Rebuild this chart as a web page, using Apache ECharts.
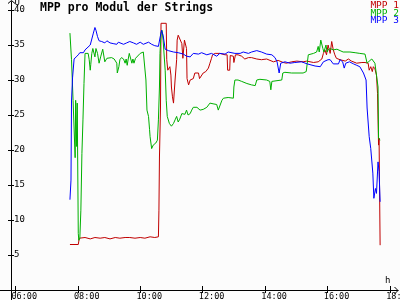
<!DOCTYPE html>
<html><head><meta charset="utf-8">
<script src="https://cdn.jsdelivr.net/npm/echarts@6/dist/echarts.min.js"></script>
<style>html,body{margin:0;padding:0;background:#fcfcfc}#c{width:400px;height:300px}</style>
</head><body><div id="c"></div>
<script>
const chartTitle = 'MPP pro Modul der Strings';
const seriesNames = ['MPP 1', 'MPP 2', 'MPP 3'];
const seriesColors = ['#c00000', '#00b000', '#0000ff'];
const xTickLabels = ['06:00', '08:00', '10:00', '12:00', '14:00', '16:00', '18:00'];
const yTickValues = [5, 10, 15, 20, 25, 30, 35, 40];
const yAxisName = 'U';
const xAxisName = 'h';

const mpp1 = [["07:45",6.5],["08:01",6.5],["08:03",7.4],["08:14",7.5],["08:24",7.3],["08:33",7.5],["08:43",7.4],["08:52",7.5],["09:02",7.3],["09:12",7.5],["09:21",7.4],["09:31",7.5],["09:40",7.5],["09:50",7.4],["10:00",7.5],["10:09",7.4],["10:19",7.6],["10:28",7.5],["10:35",7.6],["10:36",11.4],["10:37",19.0],["10:39",26.0],["10:40",38.1],["10:50",38.1],["10:51",32.9],["10:53",31.4],["10:56",31.6],["10:57",31.9],["10:59",30.7],["11:00",29.0],["11:02",27.6],["11:04",26.7],["11:07",30.0],["11:10",32.9],["11:11",35.7],["11:13",36.4],["11:16",36.2],["11:20",35.2],["11:22",33.1],["11:25",35.7],["11:28",35.7],["11:29",34.5],["11:30",30.2],["11:33",29.3],["11:36",30.0],["11:42",30.2],["11:45",31.0],["11:52",31.0],["11:54",30.2],["11:57",30.3],["12:01",31.0],["12:06",31.2],["12:11",31.7],["12:14",32.4],["12:17",33.1],["12:19",33.6],["12:24",33.8],["12:33",33.8],["12:43",33.6],["12:47",33.6],["12:48",31.4],["12:52",31.4],["12:53",33.5],["12:59",33.4],["13:00",32.5],["13:02",32.5],["13:03",33.6],["13:08",33.6],["13:15",33.4],["13:21",33.0],["13:28",33.2],["13:34",33.2],["13:44",33.0],["13:53",32.9],["14:03",33.0],["14:16",32.6],["14:25",32.8],["14:35",32.5],["14:41",32.4],["14:51",32.6],["15:01",32.7],["15:13",32.6],["15:20",32.7],["15:33",32.5],["15:42",32.6],["15:49",33.0],["15:52",33.8],["15:55",34.3],["15:58",33.6],["16:01",35.0],["16:05",33.8],["16:08",35.5],["16:11",34.3],["16:14",33.6],["16:17",33.1],["16:24",32.9],["16:34",32.7],["16:40",33.0],["16:46",32.7],["16:56",32.4],["17:06",32.5],["17:12",32.5],["17:18",32.4],["17:20",31.4],["17:23",31.9],["17:26",31.2],["17:28",31.9],["17:31",31.6],["17:34",30.7],["17:36",28.1],["17:38",20.7],["17:39",21.7],["17:41",6.4]];

const mpp2 = [["07:45",36.7],["07:48",32.9],["07:51",27.1],["07:55",18.9],["07:56",27.1],["07:58",20.5],["07:59",26.7],["08:01",8.1],["08:02",7.1],["08:04",7.4],["08:06",11.4],["08:08",19.5],["08:10",24.3],["08:12",29.5],["08:14",33.8],["08:17",34.0],["08:20",33.8],["08:22",32.9],["08:24",31.4],["08:25",32.2],["08:27",33.8],["08:29",34.5],["08:31",34.5],["08:33",33.3],["08:35",34.5],["08:38",33.8],["08:41",32.4],["08:44",33.3],["08:48",34.4],["08:50",34.4],["08:52",32.6],["08:56",33.1],["08:59",33.2],["09:05",33.2],["09:10",33.0],["09:12",33.1],["09:15",32.4],["09:16",31.0],["09:19",31.9],["09:21",32.9],["09:24",33.2],["09:28",33.0],["09:31",32.4],["09:33",33.0],["09:35",32.1],["09:37",33.0],["09:39",33.8],["09:42",34.0],["09:44",32.4],["09:46",33.0],["09:48",32.4],["09:51",33.1],["09:53",33.3],["10:00",33.8],["10:06",34.0],["10:09",34.2],["10:11",30.0],["10:13",25.7],["10:16",24.8],["10:18",22.9],["10:19",21.9],["10:22",20.2],["10:25",20.7],["10:30",21.0],["10:33",21.4],["10:35",24.3],["10:37",29.0],["10:38",33.8],["10:40",36.7],["10:42",37.1],["10:44",35.7],["10:48",31.4],["10:50",27.1],["10:52",24.8],["10:56",23.8],["11:00",23.4],["11:04",23.8],["11:07",24.3],["11:10",24.8],["11:13",24.0],["11:16",24.4],["11:20",25.2],["11:26",25.1],["11:29",25.7],["11:32",25.0],["11:36",25.2],["11:39",25.7],["11:42",26.1],["11:45",26.0],["11:49",26.1],["11:55",25.7],["12:01",25.8],["12:08",26.1],["12:14",26.7],["12:20",26.6],["12:27",26.5],["12:30",25.7],["12:33",25.7],["12:37",27.1],["12:40",27.4],["12:49",27.5],["12:59",27.4],["13:00",29.0],["13:02",30.0],["13:08",30.0],["13:15",29.8],["13:25",29.5],["13:34",29.3],["13:41",29.2],["13:44",30.0],["13:50",30.1],["14:03",30.0],["14:09",29.8],["14:11",28.6],["14:13",29.8],["14:16",30.0],["14:32",30.0],["14:34",31.0],["14:38",31.1],["14:51",31.0],["15:07",31.0],["15:13",31.0],["15:19",31.2],["15:21",32.4],["15:23",33.6],["15:33",33.8],["15:39",34.0],["15:42",34.8],["15:44",34.0],["15:47",35.7],["15:49",35.8],["15:51",34.5],["15:53",34.0],["15:57",35.0],["15:59",34.0],["16:01",34.3],["16:05",34.5],["16:11",34.3],["16:18",34.4],["16:24",34.2],["16:30",34.0],["16:43",34.0],["16:53",33.9],["17:02",33.8],["17:12",33.7],["17:14",33.6],["17:16",32.4],["17:20",32.7],["17:25",33.0],["17:28",32.9],["17:31",32.4],["17:34",30.7],["17:37",29.0],["17:38",21.7],["17:41",21.4]];

const mpp3 = [["07:45",12.9],["07:47",15.7],["07:48",27.0],["07:50",30.3],["07:53",33.0],["07:57",33.3],["08:01",33.6],["08:04",33.9],["08:11",33.9],["08:14",34.3],["08:17",34.4],["08:24",35.0],["08:27",35.2],["08:30",36.7],["08:33",37.5],["08:35",37.1],["08:38",36.2],["08:41",35.6],["08:46",35.5],["08:52",35.3],["08:56",35.6],["08:59",35.6],["09:02",35.3],["09:08",35.2],["09:15",35.1],["09:18",35.4],["09:21",35.2],["09:28",35.1],["09:34",35.3],["09:40",35.5],["09:47",35.3],["09:53",35.1],["10:00",35.4],["10:06",35.1],["10:16",35.4],["10:22",35.1],["10:28",34.9],["10:35",34.8],["10:38",36.0],["10:41",37.1],["10:44",36.4],["10:48",34.4],["10:54",34.2],["11:04",34.0],["11:13",33.9],["11:23",33.7],["11:29",33.4],["11:36",33.3],["11:42",33.8],["11:52",33.7],["11:58",33.9],["12:08",33.6],["12:17",33.8],["12:27",33.4],["12:33",33.8],["12:43",33.7],["12:49",34.0],["13:02",33.8],["13:12",33.8],["13:18",34.0],["13:28",33.8],["13:34",34.0],["13:44",34.2],["13:53",34.0],["14:03",33.7],["14:13",33.6],["14:19",33.2],["14:23",32.6],["14:27",31.0],["14:30",32.4],["14:38",32.6],["14:48",32.4],["14:57",32.5],["15:10",32.6],["15:21",32.3],["15:36",32.0],["15:46",31.9],["15:52",32.6],["16:01",32.9],["16:05",32.9],["16:11",32.3],["16:21",32.3],["16:24",32.9],["16:29",32.6],["16:32",31.7],["16:35",32.4],["16:42",32.6],["16:50",32.3],["16:56",32.1],["17:02",31.9],["17:09",31.0],["17:14",30.0],["17:16",26.0],["17:20",21.9],["17:23",20.2],["17:27",16.7],["17:29",13.1],["17:32",14.5],["17:34",13.8],["17:37",18.3],["17:39",16.9],["17:41",12.6]];

const toH = s => { const [h, m] = s.split(':').map(Number); return h + m / 60; };
const FONT = 'DejaVu Sans Mono';
const xTickValues = xTickLabels.map(toH);
const X_MIN = 5.8623, X_MAX = 18.256, Y_MIN = 0, Y_MAX = 41.2;
const fmtX = v => { const h = Math.floor(v + 1e-6); const m = Math.round((v - h) * 60); return String(h).padStart(2, '0') + ':' + String(m).padStart(2, '0'); };

const chart = echarts.init(document.getElementById('c'), null, { renderer: 'canvas' });
const allData = [mpp1, mpp2, mpp3];
chart.setOption({
  backgroundColor: '#fcfcfc',
  animation: false,
  title: { text: chartTitle, left: 40, top: 2, padding: 0,
    textStyle: { fontFamily: FONT, fontSize: 11.5, fontWeight: 'bold', color: '#000' } },
  legend: { show: true, orient: 'vertical', right: 1, top: 0.8, padding: 0, itemGap: -2.6,
    itemWidth: 0, itemHeight: 0, icon: 'rect', selectedMode: false,
    textStyle: { fontFamily: FONT, fontSize: 9.5, padding: 0 },
    data: seriesNames.map((n, i) => ({ name: n, textStyle: { color: seriesColors[i] } })) },
  grid: { left: 11, right: 2, top: 1.6, bottom: 10, containLabel: false, outerBoundsMode: 'none' },
  xAxis: [
    { type: 'value', min: X_MIN, max: X_MAX, position: 'bottom',
      axisLine: { show: true, onZero: false, lineStyle: { color: '#000', width: 1 } },
      axisTick: { show: true, length: 3, customValues: xTickValues, lineStyle: { color: '#000' } },
      axisLabel: { customValues: xTickValues, formatter: fmtX, color: '#000', fontFamily: FONT, fontSize: 8.5,
        margin: 2, align: 'center', padding: [0, 0, 0, 18] },
      splitLine: { show: false },
      name: xAxisName, nameLocation: 'end', nameGap: -13, nameMoveOverlap: false,
      nameTextStyle: { fontFamily: FONT, fontSize: 9, color: '#000', align: 'left', verticalAlign: 'bottom', padding: [0, 0, 5, 0] } },
    { type: 'value', min: X_MIN, max: X_MAX, position: 'bottom',
      axisLine: { show: false, onZero: false },
      axisTick: { show: true, inside: true, length: 4, customValues: xTickValues, lineStyle: { color: '#000' } },
      axisLabel: { show: false }, splitLine: { show: false } }
  ],
  yAxis: [
    { type: 'value', min: Y_MIN, max: Y_MAX, position: 'left',
      axisLine: { show: true, onZero: false, lineStyle: { color: '#000', width: 1 } },
      axisTick: { show: true, length: 3, customValues: yTickValues, lineStyle: { color: '#000' } },
      axisLabel: { customValues: yTickValues, inside: true, margin: 3, color: '#000', fontFamily: FONT, fontSize: 9, padding: [2, 0, 0, 0] },
      splitLine: { show: false } },
    { type: 'value', min: Y_MIN, max: Y_MAX, position: 'left',
      axisLine: { show: false, onZero: false },
      axisTick: { show: true, inside: true, length: 3, customValues: yTickValues, lineStyle: { color: '#000' } },
      axisLabel: { show: false }, splitLine: { show: false } }
  ],
  graphic: [
    { type: 'polyline', shape: { points: [[8, 3.5], [11.5, 0.5], [15, 3.5]] }, style: { stroke: '#000', fill: null, lineWidth: 1 }, silent: true },
    { type: 'polyline', shape: { points: [[394.5, 287], [398, 290.5], [394.5, 294]] }, style: { stroke: '#000', fill: null, lineWidth: 1 }, silent: true },
    { type: 'line', shape: { x1: 11.5, y1: 290, x2: 11.5, y2: 300 }, style: { stroke: '#000', lineWidth: 1 }, silent: true },
    { type: 'line', shape: { x1: 0, y1: 290.5, x2: 11, y2: 290.5 }, style: { stroke: '#000', lineWidth: 1 }, silent: true },
    { type: 'text', x: 14.5, y: -2, silent: true, z: 10,
      style: { text: yAxisName, font: '9px "DejaVu Sans Mono"', fill: '#000', textAlign: 'left', textVerticalAlign: 'top' } }
  ],
  series: allData.map((d, i) => ({
    name: seriesNames[i], type: 'line', xAxisIndex: 0, yAxisIndex: 0,
    data: d.map(([t, v]) => [toH(t), v]),
    symbol: 'none', showSymbol: false, smooth: false,
    lineStyle: { color: seriesColors[i], width: 1 }, itemStyle: { color: seriesColors[i] },
    emphasis: { disabled: true }
  }))
});
</script></body></html>
